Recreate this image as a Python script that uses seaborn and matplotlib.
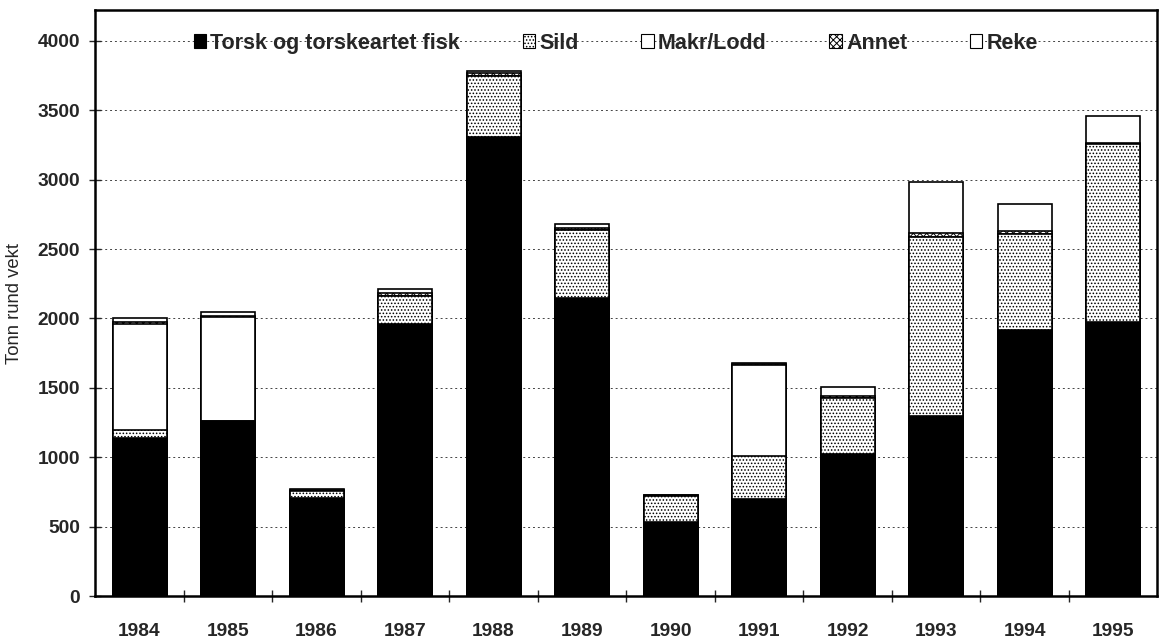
import pandas as pd
import numpy as np
import matplotlib
matplotlib.use("Agg")
import matplotlib.pyplot as plt
import matplotlib.patches as mpatches
from matplotlib.ticker import FixedLocator
import seaborn as sns

# Data (tonn rund vekt)
years = ["1984", "1985", "1986", "1987", "1988", "1989",
         "1990", "1991", "1992", "1993", "1994", "1995"]
torsk = [1140, 1265, 705, 1960, 3305, 2150, 535, 700, 1025, 1295, 1915, 1975]
sild = [55, 0, 50, 200, 440, 485, 190, 310, 405, 1295, 695, 1282]
makr = [765, 745, 0, 0, 0, 0, 0, 655, 0, 0, 0, 0]
annet = [15, 10, 10, 20, 20, 15, 5, 10, 15, 25, 20, 5]
reke = [30, 25, 10, 30, 15, 30, 0, 5, 60, 370, 195, 195]

series = ["Torsk og torskeartet fisk", "Sild", "Makr/Lodd", "Annet", "Reke"]
values = [torsk, sild, makr, annet, reke]
faces = ["black", "white", "white", "white", "white"]
hatches = [None, ".....", None, "xxxxx", None]

sns.set_style("white")
plt.rcParams["font.family"] = ["Liberation Sans", "DejaVu Sans"]
plt.rcParams["hatch.linewidth"] = 0.7
plt.rcParams["hatch.color"] = "black"

df = pd.DataFrame({"year": years})
cum = np.zeros(len(years))
for name, vals in zip(series, values):
    cum = cum + np.array(vals)
    df[name] = cum

fig = plt.figure(figsize=(11.62, 6.39), dpi=100)
ax = fig.add_axes([0.082, 0.067, 0.914, 0.917])

# stacked look: draw cumulative totals from the top series down
for name, fc, h in reversed(list(zip(series, faces, hatches))):
    sns.barplot(data=df, x="year", y=name, order=years, color=fc,
                saturation=1, edgecolor="black", linewidth=1.2,
                hatch=h, width=0.61, ax=ax, errorbar=None)

ax.set_xlim(-0.5, len(years) - 0.5)
ax.set_ylim(0, 4220)
ax.yaxis.set_major_locator(FixedLocator(range(0, 4001, 500)))
ax.set_axisbelow(True)
ax.yaxis.grid(True, linestyle=(0, (2, 3)), color="#444444", linewidth=0.7)
ax.xaxis.grid(False)

ax.set_xlabel("")
ax.set_ylabel("Tonn rund vekt", fontsize=13.3, labelpad=10)

ax.tick_params(axis="x", which="major", length=0, pad=19, labelsize=13.8)
ax.xaxis.set_minor_locator(FixedLocator(np.arange(0.5, len(years) - 0.5, 1)))
ax.tick_params(axis="x", which="minor", direction="inout", length=9, width=1, bottom=True)
ax.tick_params(axis="y", direction="inout", length=8, width=1, left=True, pad=7, labelsize=13.8)
for lbl in ax.get_xticklabels() + ax.get_yticklabels():
    lbl.set_fontweight("bold")

for sp in ax.spines.values():
    sp.set_visible(True)
    sp.set_color("black")
    sp.set_linewidth(1.8)

handles = [mpatches.Patch(facecolor=fc, edgecolor="black", hatch=h, linewidth=0.8)
           for fc, h in zip(faces, hatches)]
leg = ax.legend(handles, series, loc="center", bbox_to_anchor=(0.49, 0.944),
                ncol=5, frameon=False, handlelength=0.58, handleheight=0.6,
                handletextpad=0.2, columnspacing=2.9,
                prop={"weight": "bold", "size": 15.5})

fig.savefig("out.png", dpi=100)
